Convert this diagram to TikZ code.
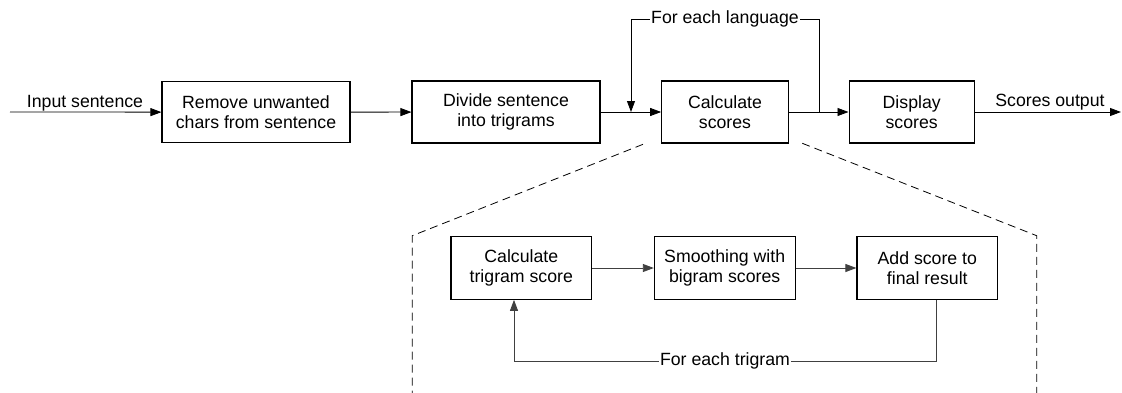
\documentclass[tikz,border=0pt]{standalone}
\usepackage{fontspec}
\setmainfont{Liberation Sans}
\usetikzlibrary{arrows.meta}
\tikzset{
  every node/.style={font=\fontsize{17.7}{20.5}\selectfont},
  blk/.style={draw, line width=1.1pt, align=center, inner sep=0pt},
  arr/.style={line width=0.8pt, -{Triangle[length=11pt,width=8pt]}},
  conn/.style={line width=0.8pt},
  lowconn/.style={line width=0.9pt, draw=black!75},
  lowarr/.style={lowconn, -{Triangle[length=11pt,width=8pt]}},
  dsh/.style={line width=0.8pt, dash pattern=on 8pt off 5pt},
  lbl/.style={fill=white, inner sep=1.5pt},
}
\begin{document}
\begin{tikzpicture}[x=1pt,y=-1pt]
\useasboundingbox (0,0) rectangle (1122,392);
% top row
\node[blk, minimum width=188pt, minimum height=61pt] (b1) at (256,112.2) {Remove unwanted\\chars from sentence};
\node[blk, minimum width=188pt, minimum height=62pt] (b2) at (506,112) {Divide sentence\\into trigrams};
\node[blk, minimum width=126.6pt, minimum height=62pt] (b3) at (725,112) {Calculate\\scores};
\node[blk, minimum width=125.3pt, minimum height=62pt] (b4) at (911.7,112) {Display\\scores};
\coordinate (in) at (10,112);
\coordinate (out) at (1121,112);
\node[anchor=base, inner sep=0pt] (lin) at (85,107) {Input sentence};
\node[anchor=base, inner sep=0pt] (lout) at (1050,106) {Scores output};
\draw[arr] (in) -- (b1);
\draw[arr] (b1) -- (b2);
\draw[arr] (b2) -- (b3);
\draw[arr] (b3) -- (b4);
\draw[arr] (b4) -- (out);
% feedback for each language
\coordinate (j1) at (819,112);
\coordinate (j2) at (631,112);
\coordinate (t1) at (819,19);
\coordinate (t2) at (631,19);
\draw[conn] (j1) -- (t1) -- node[lbl] (lang) {For each language} (t2);
\draw[arr] (t2) -- (j2);
% dashed zoom lines
\coordinate (d1) at (643,144.3);
\coordinate (d2) at (412.3,235.7);
\coordinate (d3) at (412.3,393);
\coordinate (d4) at (802.3,143.3);
\coordinate (d5) at (1036.7,235.7);
\coordinate (d6) at (1036.7,393);
\draw[dsh] (d1) -- (d2) -- (d3);
\draw[dsh] (d4) -- (d5) -- (d6);
% lower row
\node[blk, minimum width=140.7pt, minimum height=62.6pt] (b5) at (521.3,268) {Calculate\\trigram score};
\node[blk, minimum width=140.7pt, minimum height=62.6pt] (b6) at (724.7,268) {Smoothing with\\bigram scores};
\node[blk, minimum width=140.7pt, minimum height=62.6pt] (b7) at (927.3,268) {Add score to\\final result};
\draw[lowarr] (b5) -- (b6);
\draw[lowarr] (b6) -- (b7);
\coordinate (l1) at (936,361);
\coordinate (l2) at (514,361);
\draw[lowconn] (b7.south -| l1) -- (l1) -- node[lbl] (tri) {For each trigram} (l2);
\draw[lowarr] (l2) -- (b5.south -| l2);
\end{tikzpicture}
\end{document}
